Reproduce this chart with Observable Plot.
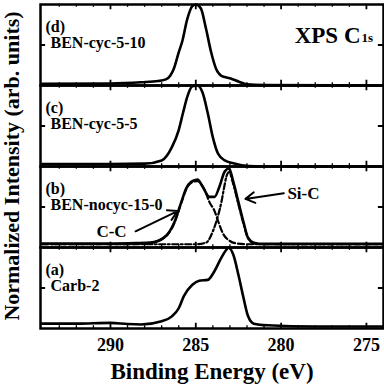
<!DOCTYPE html>
<html><head><meta charset="utf-8">
<script src="https://cdn.jsdelivr.net/npm/d3@7"></script>
<script src="https://cdn.jsdelivr.net/npm/@observablehq/plot@0.6"></script>
<style>body{margin:0;background:#fff} #chart svg text{font-weight:700 !important}</style>
</head><body><div id="chart"></div>
<script>
// Panels, top to bottom
const panels = ["d", "c", "b", "a"];
const panelLetters = ["(d)", "(c)", "(b)", "(a)"];
const panelNames = ["BEN-cyc-5-10", "BEN-cyc-5-5", "BEN-nocyc-15-0", "Carb-2"];

// (d) BEN-cyc-5-10
const dEv  = [294, 290, 288.2, 287.2, 286.75, 286.5, 286.3, 286.0, 285.8, 285.5, 285.2, 285.0, 284.7, 284.4, 284.1, 283.8, 283.5, 283.0, 282.5, 282.0, 281.0, 274];
const dInt = [0.02, 0.025, 0.04, 0.055, 0.075, 0.12, 0.2, 0.41, 0.54, 0.82, 0.98, 1.0, 0.95, 0.7, 0.41, 0.2, 0.12, 0.09, 0.05, 0.015, 0.005, 0.0];
// (c) BEN-cyc-5-5
const cEv  = [294, 290, 288, 287.0, 286.4, 286.0, 285.75, 285.5, 285.2, 284.9, 284.6, 284.3, 284.0, 283.7, 283.3, 282.8, 281.9, 281, 274];
const cInt = [0.03, 0.03, 0.035, 0.075, 0.24, 0.45, 0.66, 0.86, 0.99, 1.0, 0.91, 0.66, 0.36, 0.16, 0.075, 0.04, 0.005, 0, 0];
// (b) BEN-nocyc-15-0 total
const bEv  = [294, 290, 288.5, 287.66, 286.85, 286.26, 285.85, 285.56, 285.27, 284.9, 284.6, 284.2, 283.9, 283.6, 283.3, 283.05, 282.8, 282.5, 282.2, 281.95, 281.6, 281, 274];
const bInt = [0.05, 0.05, 0.055, 0.06, 0.125, 0.31, 0.56, 0.73, 0.81, 0.84, 0.75, 0.625, 0.625, 0.76, 0.94, 0.975, 0.81, 0.56, 0.31, 0.125, 0.06, 0.045, 0.045];
// (b) C-C component (dashed)
const ccEv  = [294, 290, 288, 287.66, 286.85, 286.26, 285.85, 285.56, 285.27, 284.9, 284.5, 284.2, 283.9, 283.7, 283.4, 283.0, 282.6, 282, 280, 274];
const ccInt = [0.04, 0.04, 0.045, 0.055, 0.12, 0.3, 0.55, 0.72, 0.8, 0.82, 0.72, 0.56, 0.45, 0.33, 0.17, 0.08, 0.05, 0.04, 0.04, 0.04];
// (b) Si-C component (dash-dot)
const scEv  = [294, 288, 285.0, 284.4, 284.0, 283.7, 283.5, 283.35, 283.2, 283.05, 282.8, 282.5, 282.2, 281.95, 281.6, 281, 274];
const scInt = [0.04, 0.04, 0.04, 0.06, 0.2, 0.39, 0.56, 0.73, 0.88, 0.93, 0.78, 0.53, 0.29, 0.12, 0.05, 0.04, 0.04];
// (a) Carb-2
const aEv  = [294, 292, 290, 289, 288.2, 287.0, 286.4, 286.0, 285.7, 285.2, 284.8, 284.3, 283.9, 283.5, 283.2, 283.1, 282.8, 282.5, 282.2, 281.95, 281.6, 280.8, 278, 274];
const aInt = [0.06, 0.06, 0.07, 0.055, 0.05, 0.09, 0.15, 0.25, 0.4, 0.54, 0.59, 0.6, 0.71, 0.875, 0.975, 1.0, 0.91, 0.66, 0.375, 0.16, 0.06, 0.04, 0.025, 0.025];

const xTicks = [290, 285, 280, 275];
const minorTicks = [293, 292, 291, 289, 288, 287, 286, 284, 283, 282, 281, 279, 278, 277, 276, 274];

const rows = (panel, series, ev, it) => ev.map((x, i) => ({panel, series, x, y: it[i]}));
const solid = [
  ...rows("d", "d", dEv, dInt),
  ...rows("c", "c", cEv, cInt),
  ...rows("b", "b", bEv, bInt),
  ...rows("a", "a", aEv, aInt)
];
const ccRows = rows("b", "cc", ccEv, ccInt);
const scRows = rows("b", "sc", scEv, scInt);
const labelRows = panels.map((p, i) => ({panel: p, letter: panelLetters[i], name: panelNames[i]}));
const annText = [
  {panel: "b", x: 289.94, y: 0.2, text: "C-C"},
  {panel: "b", x: 278.69, y: 0.67, text: "Si-C"}
];
const annArrows = [
  {panel: "b", x1: 288.53, y1: 0.2, x2: 286.07, y2: 0.45},
  {panel: "b", x1: 279.84, y1: 0.67, x2: 282.09, y2: 0.6}
];

const font = "'Liberation Serif', 'Times New Roman', serif";
const plot = Plot.plot({
  width: 384, height: 386,
  marginLeft: 40, marginRight: 1, marginTop: 3, marginBottom: 57,
  style: {fontFamily: font, fontSize: "18px", fontWeight: "bold", background: "#fff", color: "#000"},
  x: {domain: [294.1, 274], ticks: xTicks, tickSize: 0, tickPadding: 10, label: null, tickFormat: d => String(d)},
  y: {domain: [0, 1], axis: null},
  fy: {domain: panels, padding: 0, axis: null},
  marks: [
    Plot.ruleX(xTicks, {x: d => d, y1: 0, y2: 0.065, stroke: "black", strokeWidth: 1.8}),
    Plot.ruleX(xTicks, {x: d => d, y1: 0.935, y2: 1, stroke: "black", strokeWidth: 1.8}),
    Plot.ruleX(minorTicks, {x: d => d, y1: 0, y2: 0.035, stroke: "black", strokeWidth: 1.3}),
    Plot.ruleX(minorTicks, {x: d => d, y1: 0.965, y2: 1, stroke: "black", strokeWidth: 1.3}),
    Plot.ruleY([0.5], {y: d => d, x1: 294.1, x2: 293.8, stroke: "black", strokeWidth: 2}),
    Plot.ruleY([0.5], {y: d => d, x1: 274.3, x2: 274, stroke: "black", strokeWidth: 2}),
    Plot.line(ccRows, {x: "x", y: "y", fy: "panel", curve: "monotone-x", stroke: "black", strokeWidth: 2.2, strokeDasharray: "6,3"}),
    Plot.line(scRows, {x: "x", y: "y", fy: "panel", curve: "monotone-x", stroke: "black", strokeWidth: 2.2, strokeDasharray: "6,2.5,2,2.5"}),
    Plot.line(solid, {x: "x", y: "y", z: "series", fy: "panel", curve: "monotone-x", stroke: "black", strokeWidth: 2.6}),
    Plot.frame({stroke: "black", strokeWidth: 2.5}),
    Plot.text(labelRows, {fy: "panel", text: "letter", frameAnchor: "top-left", dx: 5, dy: 16, textAnchor: "start", fontSize: 16, fontWeight: "bold"}),
    Plot.text(labelRows, {fy: "panel", text: "name", frameAnchor: "top-left", dx: 10, dy: 32, textAnchor: "start", fontSize: 16, fontWeight: "bold"}),
    Plot.text([{panel: "d"}], {fy: "panel", text: () => "XPS C", frameAnchor: "top-right", dx: -23, dy: 22, textAnchor: "end", fontSize: 23, fontWeight: "bold"}),
    Plot.text([{panel: "d"}], {fy: "panel", text: () => "1s", frameAnchor: "top-right", dx: -22, dy: 28, textAnchor: "start", fontSize: 13, fontWeight: "bold"}),
    Plot.text(annText, {x: "x", y: "y", fy: "panel", text: "text", fontSize: 17, fontWeight: "bold"}),
    Plot.arrow(annArrows, {x1: "x1", y1: "y1", x2: "x2", y2: "y2", fy: "panel", stroke: "black", strokeWidth: 2, headLength: 8})
  ]
});
const svg = d3.select(plot);
svg.append("text")
  .attr("transform", "translate(19,166) rotate(-90)")
  .attr("text-anchor", "middle")
  .attr("font-family", font).attr("font-weight", "bold").attr("font-size", 22)
  .attr("fill", "black")
  .text("Normalized Intensity (arb. units)");
svg.append("text")
  .attr("x", 212).attr("y", 379)
  .attr("text-anchor", "middle")
  .attr("font-family", font).attr("font-weight", "bold").attr("font-size", 23)
  .attr("fill", "black")
  .text("Binding Energy (eV)");
document.getElementById("chart").appendChild(plot);
</script>
</body></html>
